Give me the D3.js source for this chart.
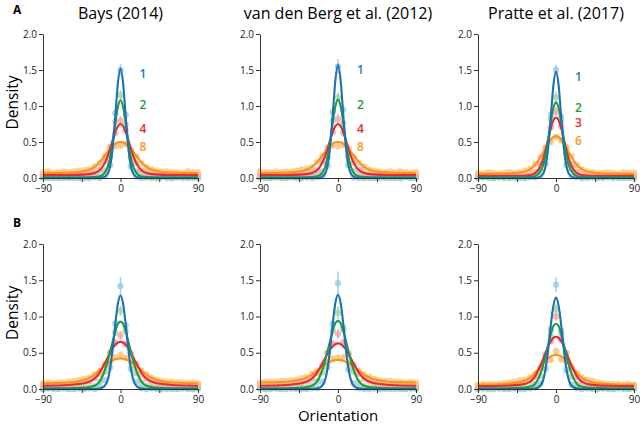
<!DOCTYPE html>
<html>
<head>
<meta charset="utf-8">
<script src="https://cdn.jsdelivr.net/npm/d3@7"></script>
<style>
  body { margin: 0; background: #fff; }
  text { font-family: "Open Sans", "Noto Sans", sans-serif; }
</style>
</head>
<body>
<svg id="s"></svg>
<script>
// titles, set-size labels, colours
var titles = ["Bays (2014)", "van den Berg et al. (2012)", "Pratte et al. (2017)"];
var setSizes = [["1", "2", "4", "8"], ["1", "2", "4", "8"], ["1", "2", "3", "6"]];
var lineColors = ["#1f70b4", "#1f9a48", "#e32a36", "#f7941d"];
var labelColors = ["#1f78c0", "#1f9a48", "#e32a36", "#f39a2a"];
var dotColors = ["#8fcbe3", "#9fd79c", "#f7a1a8", "#fcbf72"];

var xTicks = [-90, -45, 0, 45, 90];
var yTicks = [0, 0.5, 1.0, 1.5, 2.0];

// bin centres of the histogram points
var binX = [-90, -84, -78, -72, -66, -60, -54, -48, -42, -36, -30, -24, -18, -12, -6, 0,
            6, 12, 18, 24, 30, 36, 42, 48, 54, 60, 66, 72, 78, 84, 90];
// bins that carry an error bar
var errX = [-12, -6, 0, 6, 12];
// fitted curves are symmetric: values given for x >= 0
var curveX = [0, 3, 6, 9, 12, 15, 20, 25, 30, 40, 60, 90];

// ---- row A (fits), order: 1, 2, 4/3, 8/6
var fitA_bays = [
  [1.52, 1.32, 0.86, 0.43, 0.17, 0.055, 0.008, 0, 0, 0, 0, 0],
  [1.08, 0.99, 0.77, 0.51, 0.29, 0.15, 0.05, 0.02, 0.012, 0.01, 0.01, 0.01],
  [0.75, 0.72, 0.64, 0.53, 0.41, 0.30, 0.17, 0.10, 0.07, 0.05, 0.042, 0.04],
  [0.50, 0.495, 0.475, 0.445, 0.405, 0.36, 0.285, 0.21, 0.155, 0.10, 0.075, 0.07]
];
var fitA_vdb = [
  [1.57, 1.36, 0.89, 0.44, 0.175, 0.057, 0.008, 0, 0, 0, 0, 0],
  [1.09, 1.00, 0.78, 0.515, 0.295, 0.15, 0.05, 0.02, 0.012, 0.01, 0.01, 0.01],
  [0.75, 0.72, 0.64, 0.53, 0.41, 0.30, 0.17, 0.10, 0.07, 0.05, 0.042, 0.04],
  [0.50, 0.495, 0.475, 0.445, 0.405, 0.36, 0.285, 0.21, 0.155, 0.10, 0.075, 0.07]
];
var fitA_pratte = [
  [1.48, 1.29, 0.85, 0.43, 0.17, 0.055, 0.008, 0, 0, 0, 0, 0],
  [1.05, 0.975, 0.78, 0.54, 0.32, 0.17, 0.06, 0.022, 0.012, 0.01, 0.01, 0.01],
  [0.84, 0.80, 0.69, 0.54, 0.39, 0.26, 0.12, 0.06, 0.04, 0.032, 0.03, 0.03],
  [0.58, 0.57, 0.535, 0.48, 0.415, 0.35, 0.25, 0.17, 0.12, 0.08, 0.062, 0.06]
];
// ---- row B (fits)
var fitB_bays = [
  [1.29, 1.18, 0.90, 0.56, 0.29, 0.12, 0.025, 0.005, 0, 0, 0, 0],
  [0.93, 0.90, 0.80, 0.66, 0.52, 0.38, 0.20, 0.09, 0.045, 0.02, 0.01, 0.01],
  [0.65, 0.64, 0.61, 0.56, 0.50, 0.43, 0.32, 0.21, 0.145, 0.085, 0.055, 0.045],
  [0.42, 0.418, 0.41, 0.395, 0.375, 0.35, 0.30, 0.25, 0.20, 0.135, 0.09, 0.08]
];
var fitB_vdb = [
  [1.30, 1.19, 0.91, 0.565, 0.29, 0.12, 0.025, 0.005, 0, 0, 0, 0],
  [0.94, 0.91, 0.81, 0.67, 0.525, 0.385, 0.20, 0.09, 0.045, 0.02, 0.01, 0.01],
  [0.63, 0.62, 0.59, 0.545, 0.49, 0.42, 0.31, 0.21, 0.145, 0.085, 0.055, 0.045],
  [0.40, 0.398, 0.39, 0.377, 0.36, 0.337, 0.29, 0.245, 0.20, 0.14, 0.10, 0.09]
];
var fitB_pratte = [
  [1.26, 1.15, 0.88, 0.55, 0.28, 0.115, 0.024, 0.005, 0, 0, 0, 0],
  [0.90, 0.87, 0.76, 0.61, 0.46, 0.32, 0.15, 0.06, 0.03, 0.015, 0.01, 0.01],
  [0.72, 0.705, 0.66, 0.59, 0.50, 0.41, 0.27, 0.16, 0.10, 0.06, 0.045, 0.04],
  [0.47, 0.465, 0.45, 0.425, 0.39, 0.35, 0.28, 0.21, 0.155, 0.10, 0.07, 0.06]
];

// ---- observed densities per bin
var data_bays = [
  [0,0.01,0,0,0.01,0,0,0.01,0,0,0.01,0, 0.03,0.18,0.90,1.50,0.88,0.16,0.02, 0,0.01,0,0,0.01,0,0,0.01,0,0,0.01,0],
  [0.01,0,0.02,0.01,0,0.01,0.02,0,0.01,0.01,0.02,0.03, 0.10,0.30,0.78,1.15,0.74,0.28,0.09, 0.03,0.01,0.01,0,0.02,0.01,0,0.01,0.02,0.01,0,0.01],
  [0.04,0.05,0.03,0.04,0.05,0.04,0.04,0.05,0.05,0.06,0.07,0.11, 0.24,0.43,0.62,0.80,0.66,0.39,0.21, 0.10,0.07,0.05,0.04,0.05,0.04,0.04,0.05,0.03,0.04,0.05,0.04],
  [0.08,0.09,0.07,0.08,0.09,0.08,0.09,0.10,0.11,0.12,0.16,0.21, 0.31,0.40,0.44,0.45,0.47,0.39,0.30, 0.20,0.15,0.12,0.10,0.09,0.09,0.08,0.08,0.07,0.09,0.08,0.08]
];
var data_vdb = [
  [0.01,0,0,0.01,0,0,0.01,0,0,0.01,0,0.01, 0.02,0.17,0.92,1.55,0.95,0.18,0.01, 0,0,0.01,0,0,0.01,0,0,0,0.01,0,0],
  [0.01,0.02,0,0.01,0.01,0,0.02,0.01,0,0.01,0.02,0.03, 0.09,0.29,0.80,1.12,0.76,0.30,0.10, 0.03,0.01,0,0.01,0.02,0,0.01,0.01,0,0.02,0.01,0.01],
  [0.05,0.04,0.04,0.03,0.05,0.04,0.05,0.04,0.05,0.06,0.07,0.10, 0.23,0.42,0.64,0.82,0.63,0.41,0.22, 0.11,0.07,0.05,0.05,0.04,0.04,0.05,0.04,0.04,0.03,0.05,0.04],
  [0.09,0.08,0.08,0.09,0.08,0.09,0.09,0.10,0.12,0.13,0.15,0.22, 0.31,0.39,0.45,0.44,0.46,0.40,0.29, 0.21,0.16,0.12,0.10,0.09,0.08,0.09,0.08,0.09,0.08,0.07,0.08]
];
var data_pratte = [
  [0,0.01,0,0,0.01,0,0.01,0,0,0,0.01,0.01, 0.03,0.20,0.88,1.50,0.85,0.18,0.02, 0.01,0,0,0.01,0,0,0.01,0,0,0.01,0,0],
  [0.01,0.01,0.02,0,0.01,0.01,0,0.02,0.01,0.01,0.02,0.04, 0.11,0.35,0.82,1.12,0.80,0.33,0.12, 0.04,0.01,0.02,0.01,0,0.01,0.02,0.01,0.01,0,0.02,0.01],
  [0.03,0.04,0.03,0.02,0.04,0.03,0.03,0.04,0.03,0.04,0.05,0.08, 0.20,0.42,0.70,0.92,0.72,0.40,0.19, 0.08,0.05,0.04,0.03,0.04,0.02,0.03,0.04,0.03,0.03,0.02,0.03],
  [0.07,0.06,0.08,0.07,0.06,0.07,0.08,0.07,0.08,0.10,0.13,0.19, 0.29,0.42,0.50,0.57,0.52,0.43,0.30, 0.18,0.12,0.09,0.08,0.07,0.07,0.08,0.07,0.06,0.08,0.07,0.07]
];
var dataB_bays = [
  [0,0.01,0,0,0.01,0,0,0.01,0,0.01,0,0.02, 0.12,0.30,0.90,1.42,0.88,0.28,0.10, 0.01,0,0.01,0,0,0.01,0,0,0.01,0,0,0.01],
  [0,0.01,0.01,0,0.01,0,0.01,0.01,0.01,0.02,0.04,0.09, 0.24,0.50,0.78,1.08,0.80,0.48,0.22, 0.08,0.04,0.02,0.01,0.01,0,0.01,0,0.01,0.01,0,0.01],
  [0.05,0.06,0.05,0.06,0.06,0.06,0.07,0.08,0.09,0.11,0.15,0.21, 0.34,0.50,0.64,0.74,0.62,0.49,0.35, 0.20,0.14,0.10,0.08,0.07,0.06,0.05,0.06,0.05,0.06,0.05,0.05],
  [0.08,0.09,0.08,0.09,0.09,0.10,0.11,0.12,0.14,0.16,0.20,0.25, 0.32,0.38,0.44,0.47,0.43,0.37,0.31, 0.26,0.20,0.16,0.13,0.11,0.10,0.10,0.09,0.09,0.08,0.09,0.08]
];
var dataB_vdb = [
  [0.01,0,0,0.01,0,0,0.01,0,0,0,0.01,0.01, 0.10,0.30,0.90,1.46,0.85,0.27,0.08, 0.01,0,0,0.01,0,0,0.01,0,0,0,0.01,0],
  [0.01,0,0.01,0.01,0,0.01,0.01,0.01,0.02,0.02,0.05,0.10, 0.23,0.50,0.80,1.05,0.82,0.49,0.24, 0.09,0.04,0.02,0.01,0.01,0.01,0,0.01,0.01,0,0.01,0.01],
  [0.05,0.05,0.06,0.05,0.06,0.06,0.07,0.08,0.09,0.11,0.14,0.22, 0.33,0.50,0.62,0.76,0.64,0.48,0.33, 0.21,0.14,0.11,0.08,0.07,0.06,0.06,0.05,0.06,0.05,0.06,0.05],
  [0.09,0.10,0.10,0.10,0.11,0.11,0.12,0.13,0.15,0.17,0.21,0.25, 0.30,0.37,0.42,0.43,0.44,0.36,0.30, 0.25,0.20,0.17,0.14,0.12,0.11,0.11,0.10,0.10,0.09,0.10,0.09]
];
var dataB_pratte = [
  [0,0.01,0,0,0.01,0,0,0.01,0,0,0.01,0.02, 0.08,0.28,0.82,1.44,0.80,0.26,0.06, 0.01,0,0.01,0,0,0.01,0,0,0.01,0,0,0.01],
  [0.01,0.01,0,0.01,0.01,0.01,0.01,0.01,0.02,0.02,0.04,0.07, 0.18,0.44,0.74,1.10,0.76,0.42,0.17, 0.06,0.03,0.02,0.01,0,0.01,0.01,0,0.01,0.01,0,0.01],
  [0.04,0.05,0.04,0.05,0.05,0.05,0.06,0.07,0.08,0.10,0.12,0.17, 0.28,0.48,0.66,1.00,0.68,0.50,0.28, 0.16,0.10,0.08,0.06,0.05,0.05,0.05,0.04,0.05,0.04,0.04,0.05],
  [0.06,0.07,0.07,0.07,0.07,0.08,0.09,0.10,0.12,0.13,0.16,0.21, 0.29,0.39,0.40,0.52,0.41,0.38,0.30, 0.22,0.16,0.13,0.11,0.09,0.08,0.07,0.07,0.07,0.06,0.07,0.06]
];

// ---- error bar half lengths at errX
var errA_bays   = [[0.03,0.06,0.08,0.06,0.03],[0.03,0.05,0.07,0.05,0.03],[0.03,0.04,0.06,0.04,0.03],[0.02,0.03,0.04,0.03,0.02]];
var errA_vdb    = [[0.03,0.06,0.10,0.06,0.03],[0.03,0.05,0.07,0.05,0.03],[0.03,0.05,0.07,0.05,0.03],[0.02,0.03,0.04,0.03,0.02]];
var errA_pratte = [[0.03,0.06,0.07,0.06,0.03],[0.03,0.05,0.08,0.05,0.03],[0.03,0.04,0.06,0.04,0.03],[0.02,0.03,0.04,0.03,0.02]];
var errB_bays   = [[0.04,0.06,0.12,0.06,0.04],[0.03,0.05,0.07,0.05,0.03],[0.03,0.04,0.06,0.04,0.03],[0.02,0.03,0.05,0.03,0.02]];
var errB_vdb    = [[0.04,0.06,0.16,0.06,0.04],[0.03,0.05,0.09,0.05,0.03],[0.03,0.05,0.07,0.05,0.03],[0.02,0.03,0.05,0.03,0.02]];
var errB_pratte = [[0.04,0.06,0.10,0.06,0.04],[0.03,0.05,0.07,0.05,0.03],[0.03,0.04,0.06,0.04,0.03],[0.02,0.03,0.05,0.03,0.02]];

var panels = [
  {row: 0, col: 0, fit: fitA_bays,   pts: data_bays,    err: errA_bays},
  {row: 0, col: 1, fit: fitA_vdb,    pts: data_vdb,     err: errA_vdb},
  {row: 0, col: 2, fit: fitA_pratte, pts: data_pratte,  err: errA_pratte},
  {row: 1, col: 0, fit: fitB_bays,   pts: dataB_bays,   err: errB_bays},
  {row: 1, col: 1, fit: fitB_vdb,    pts: dataB_vdb,    err: errB_vdb},
  {row: 1, col: 2, fit: fitB_pratte, pts: dataB_pratte, err: errB_pratte}
];

var colRange = [[43, 198], [260, 416], [478, 634]];
var rowRange = [[178, 34], [389, 244]];

var s = d3.select('#s').attr('width', 640).attr('height', 426);

// full symmetric x grid for curves
var fullX = curveX.slice(1).reverse().map(function(d){ return -d; }).concat(curveX);
function fullY(half){ return half.slice(1).reverse().concat(half); }

panels.forEach(function(p){
  var x = d3.scaleLinear().domain([-90, 90]).range(colRange[p.col]);
  var y = d3.scaleLinear().domain([0, 2]).range(rowRange[p.row]);
  var g = s.append('g');

  // points with error bars
  p.pts.forEach(function(vals, k){
    var eg = g.append('g');
    eg.selectAll('line')
      .data(errX)
      .enter()
      .append('line')
      .attr('x1', function(d){ return x(d); })
      .attr('x2', function(d){ return x(d); })
      .attr('y1', function(d, i){ return y(vals[binX.indexOf(d)] - p.err[k][i]); })
      .attr('y2', function(d, i){ return y(vals[binX.indexOf(d)] + p.err[k][i]); })
      .attr('stroke', dotColors[k])
      .attr('stroke-width', 1.6)
      .attr('opacity', 0.85);
    eg.selectAll('circle')
      .data(vals)
      .enter()
      .append('circle')
      .attr('cx', function(d, i){ return x(binX[i]); })
      .attr('cy', function(d){ return y(d); })
      .attr('r', 3.2)
      .attr('fill', dotColors[k])
      .attr('opacity', 0.75);
  });

  // fitted curves, orange at the back
  var line = d3.line()
    .x(function(d){ return x(d[0]); })
    .y(function(d){ return y(d[1]); })
    .curve(d3.curveMonotoneX);
  [3, 2, 1, 0].forEach(function(k){
    var ys = fullY(p.fit[k]);
    g.append('path')
      .datum(fullX.map(function(xx, i){ return [xx, ys[i]]; }))
      .attr('d', line)
      .attr('fill', 'none')
      .attr('stroke', lineColors[k])
      .attr('stroke-width', 2.1);
  });

  // axes
  var xa = g.append('g')
    .attr('transform', 'translate(0,' + y(0) + ')')
    .call(d3.axisBottom(x).tickValues(xTicks).tickSize(4).tickSizeOuter(0)
      .tickFormat(function(d){ return (d === 45 || d === -45) ? '' : d3.format('d')(d); }));
  var ya = g.append('g')
    .attr('transform', 'translate(' + x(-90) + ',0)')
    .call(d3.axisLeft(y).tickValues(yTicks).tickSize(4).tickSizeOuter(0).tickPadding(2)
      .tickFormat(d3.format('.1f')));
  [xa, ya].forEach(function(a){
    a.selectAll('path, line').attr('stroke', '#333');
    a.selectAll('text').attr('fill', '#222').style('font-size', '10px');
  });

  // set-size labels on the top row
  if (p.row === 0) {
    g.selectAll('text.lab')
      .data(setSizes[p.col])
      .enter()
      .append('text')
      .attr('class', 'lab')
      .attr('x', x(26))
      .attr('y', function(d, k){ return y(p.fit[k][0] - 0.07); })
      .attr('dy', '0.35em')
      .attr('text-anchor', 'middle')
      .attr('fill', function(d, k){ return labelColors[k]; })
      .style('font-size', '12px')
      .style('font-weight', '600')
      .text(function(d){ return d; });
  }

  if (p.row === 0) {
    g.append('text')
      .attr('x', x(0))
      .attr('y', 19)
      .attr('text-anchor', 'middle')
      .style('font-size', '16px')
      .text(titles[p.col]);
  }
  if (p.col === 0) {
    g.append('text')
      .attr('transform', 'translate(18,' + y(1.05) + ') rotate(-90)')
      .attr('text-anchor', 'middle')
      .style('font-size', '15.5px')
      .text('Density');
  }
});

// panel letters
s.selectAll('text.letter')
  .data(['A', 'B'])
  .enter()
  .append('text')
  .attr('class', 'letter')
  .attr('x', 13)
  .attr('y', function(d, i){ return i === 0 ? 14 : 227; })
  .style('font-size', '12px')
  .style('font-weight', 'bold')
  .text(function(d){ return d; });

s.append('text')
  .attr('x', 338)
  .attr('y', 421)
  .attr('text-anchor', 'middle')
  .style('font-size', '15px')
  .text('Orientation');
</script>
</body>
</html>
